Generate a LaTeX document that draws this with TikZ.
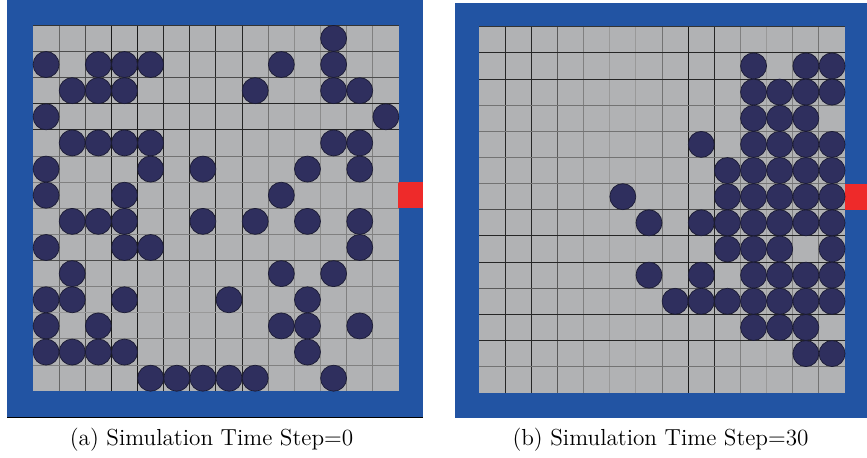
\documentclass[tikz,border=0pt]{standalone}
\usepackage{fontspec}
\setmainfont{Latin Modern Roman}
\definecolor{wallblue}{HTML}{2254A3}
\definecolor{floorgrey}{HTML}{B1B2B4}
\definecolor{agent}{HTML}{2F2F5E}
\definecolor{agentedge}{HTML}{1A1A33}
\definecolor{exitred}{HTML}{EE2A2A}
\tikzset{
  wall/.style={fill=wallblue, draw=none},
  floor/.style={fill=floorgrey, draw=none},
  exitcell/.style={fill=exitred, draw=none},
  person/.style={fill=agent, draw=agentedge, line width=0.35pt},
  caption/.style={font=\fontsize{11.6}{13.9}\selectfont, anchor=base, inner sep=0pt}
}
\begin{document}
\begin{tikzpicture}[x=0.5pt,y=-0.5pt]
\useasboundingbox (0,0) rectangle (867,457);
% ---------------- panel (a) ----------------
\def\ox{33}\def\oy{25.3}\def\cs{26.14}
\fill[wall] (7,0) rectangle (423,417);
\draw[black, line width=0.6pt] (7,417.6) -- (423,417.6);
\fill[floor] (\ox,\oy) rectangle ({\ox+14*\cs},{\oy+14*\cs});
\fill[exitcell] ({\ox+14*\cs-0.5},{\oy+6*\cs}) rectangle (423,{\oy+7*\cs});
\foreach \i/\k in {1/60,2/70,3/90,4/90,5/85,6/85,7/85,8/85,9/55,10/45,11/45,12/50,13/50}
  \draw[black!\k, line width=0.5pt] ({\ox+\i*\cs},\oy) -- ({\ox+\i*\cs},{\oy+14*\cs});
\foreach \i/\k in {0/80,1/70,2/70,3/85,4/85,5/55,6/50,7/50,8/50,9/70,10/50,11/40,12/50,13/50}
  \draw[black!\k, line width=0.5pt] (\ox,{\oy+\i*\cs}) -- ({\ox+14*\cs},{\oy+\i*\cs});
\foreach \r/\cl in {0/{11},1/{0,2,3,4,9,11},2/{1,2,3,8,11,12},3/{0,13},4/{1,2,3,4,11,12},
  5/{0,4,6,10,12},6/{0,3,9},7/{1,2,3,6,8,10,12},8/{0,3,4,12},9/{1,9,11},10/{0,1,3,7,10},
  11/{0,2,9,10,12},12/{0,1,2,3,10},13/{4,5,6,7,8,11}}
  \foreach \c in \cl
    \filldraw[person] ({\ox+(\c+0.5)*\cs},{\oy+(\r+0.5)*\cs}) circle[radius=6.5pt];
\node[caption] (capa) at (211.5,445.5) {(a) Simulation Time Step=0};
% ---------------- panel (b) ----------------
\def\ox{479}\def\oy{26.7}\def\cs{26.15}
\fill[wall] (455,3.3) rectangle (867,418.3);
\fill[floor] (\ox,\oy) rectangle ({\ox+14*\cs},{\oy+14*\cs});
\fill[exitcell] ({\ox+14*\cs-0.5},{\oy+6*\cs}) rectangle (867,{\oy+7*\cs});
\foreach \i/\k in {1/85,2/85,3/65,4/50,5/40,6/40,7/55,8/90,9/85,10/50,11/40,12/50,13/55}
  \draw[black!\k, line width=0.5pt] ({\ox+\i*\cs},\oy) -- ({\ox+\i*\cs},{\oy+14*\cs});
\foreach \i/\k in {0/80,1/85,2/85,3/55,4/55,5/55,6/55,7/70,8/85,9/85,10/65,11/85,12/85,13/55}
  \draw[black!\k, line width=0.5pt] (\ox,{\oy+\i*\cs}) -- ({\ox+14*\cs},{\oy+\i*\cs});
\foreach \r/\cl in {1/{10,12,13},2/{10,11,12,13},3/{10,11,12},4/{8,10,11,12,13},
  5/{9,10,11,12,13},6/{5,9,10,11,12,13},7/{6,8,9,10,11,12,13},8/{9,10,11,13},
  9/{6,8,10,11,12,13},10/{7,8,9,10,11,12,13},11/{10,11,12},12/{12,13}}
  \foreach \c in \cl
    \filldraw[person] ({\ox+(\c+0.5)*\cs},{\oy+(\r+0.5)*\cs}) circle[radius=6.5pt];
\node[caption] (capb) at (660.5,445.5) {(b) Simulation Time Step=30};
\end{tikzpicture}
\end{document}
